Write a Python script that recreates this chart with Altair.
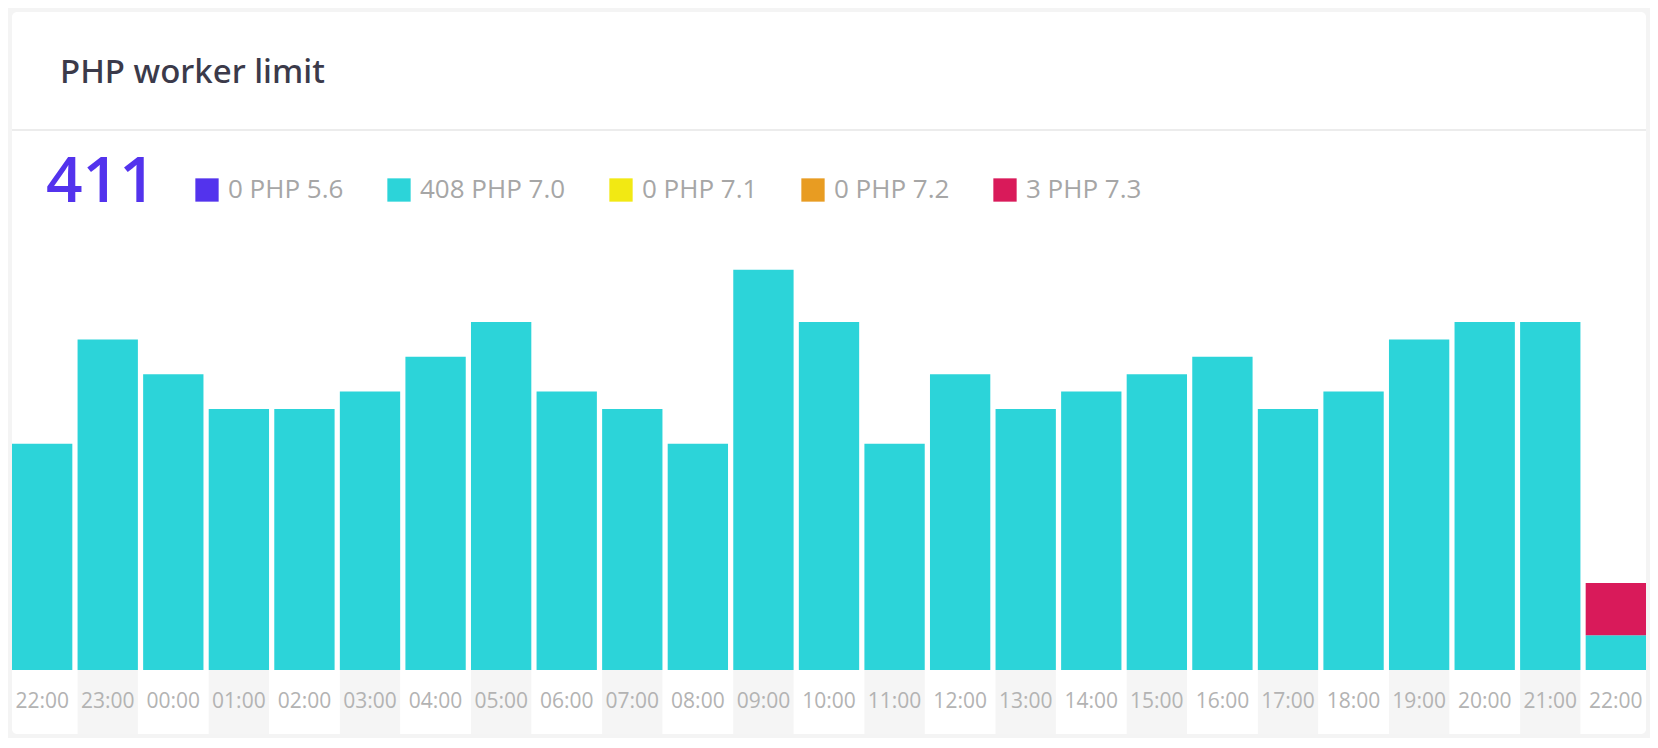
import altair as alt
import pandas as pd

hours = ["22:00", "23:00", "00:00", "01:00", "02:00", "03:00", "04:00", "05:00",
         "06:00", "07:00", "08:00", "09:00", "10:00", "11:00", "12:00", "13:00",
         "14:00", "15:00", "16:00", "17:00", "18:00", "19:00", "20:00", "21:00", "22:00"]

versions = ["PHP 5.6", "PHP 7.0", "PHP 7.1", "PHP 7.2", "PHP 7.3"]
colors = ["#5333ed", "#2cd4d9", "#f2e913", "#e89c22", "#d91a5a"]

php56 = [0, 0, 0, 0, 0, 0, 0, 0, 0, 0, 0, 0, 0, 0, 0, 0, 0, 0, 0, 0, 0, 0, 0, 0, 0]
php70 = [13, 19, 17, 15, 15, 16, 18, 20, 16, 15, 13, 23, 20, 13, 17, 15, 16, 17, 18, 15, 16, 19, 20, 20, 2]
php71 = [0, 0, 0, 0, 0, 0, 0, 0, 0, 0, 0, 0, 0, 0, 0, 0, 0, 0, 0, 0, 0, 0, 0, 0, 0]
php72 = [0, 0, 0, 0, 0, 0, 0, 0, 0, 0, 0, 0, 0, 0, 0, 0, 0, 0, 0, 0, 0, 0, 0, 0, 0]
php73 = [0, 0, 0, 0, 0, 0, 0, 0, 0, 0, 0, 0, 0, 0, 0, 0, 0, 0, 0, 0, 0, 0, 0, 0, 3]

series = [php56, php70, php71, php72, php73]
labels = [f"{sum(s)} {v}" for s, v in zip(series, versions)]
total = sum(sum(s) for s in series)

rows = []
for vi, (s, lab) in enumerate(zip(series, labels)):
    for i, val in enumerate(s):
        rows.append({"idx": i, "hour": hours[i], "version": lab, "vidx": vi, "count": val})
df = pd.DataFrame(rows)
hours_df = pd.DataFrame({"idx": list(range(len(hours))), "hour": hours})

W, H = 1634, 722
xscale = alt.Scale(paddingInner=0.08, paddingOuter=0)

bands = alt.Chart(hours_df).transform_filter("datum.idx % 2 == 1").mark_rect(
    color="#f5f5f5").encode(
    x=alt.X("idx:O", scale=xscale, axis=None),
    y=alt.value(658),
    y2=alt.value(H),
)

bars = alt.Chart(df).mark_bar().encode(
    x=alt.X("idx:O", scale=xscale, axis=None),
    y=alt.Y("count:Q", stack=True, axis=None,
            scale=alt.Scale(domain=[0, 23], range=[658, 257.8], nice=False, zero=True)),
    color=alt.Color("version:N",
                    scale=alt.Scale(domain=labels, range=colors),
                    legend=alt.Legend(orient="none", legendX=182, legendY=165,
                                      direction="horizontal", symbolType="square",
                                      symbolSize=543, symbolStrokeWidth=0,
                                      labelFontSize=26, labelFont="Open Sans",
                                      labelColor="#a6a6a6", labelOffset=8,
                                      columnPadding=42, title=None, padding=0,
                                      labelLimit=400)),
    order=alt.Order("vidx:Q"),
)

xlabels = alt.Chart(hours_df).mark_text(
    font="Open Sans", fontSize=21, color="#b3b3b3", baseline="middle").encode(
    x=alt.X("idx:O", scale=xscale, axis=None),
    y=alt.value(690),
    text="hour:N",
)

one = pd.DataFrame({"k": [0]})
divider = alt.Chart(one).mark_rule(color="#e6e6e6", strokeWidth=1.5).encode(
    x=alt.value(0), x2=alt.value(W), y=alt.value(118))

title = alt.Chart(one).mark_text(
    text="PHP worker limit", font="Noto Sans", fontSize=33, fontWeight=500,
    color="#3b3a4a", align="left", baseline="alphabetic").encode(
    x=alt.value(48), y=alt.value(71))

big = alt.Chart(one).mark_text(
    text=str(total), font="Open Sans", fontSize=64, fontWeight=600,
    color="#5333ed", align="left", baseline="alphabetic").encode(
    x=alt.value(34), y=alt.value(190))

chart = alt.layer(bands, bars, xlabels, divider, title, big).properties(
    width=W, height=H,
    autosize=alt.AutoSizeParams(type="none"),
    padding={"left": 4, "top": 4, "right": 4, "bottom": 4},
    background="#f4f4f4",
).configure_view(fill="white", strokeWidth=0, cornerRadius=5)

chart.save("out.html", embed_options={"renderer": "svg", "actions": False})
